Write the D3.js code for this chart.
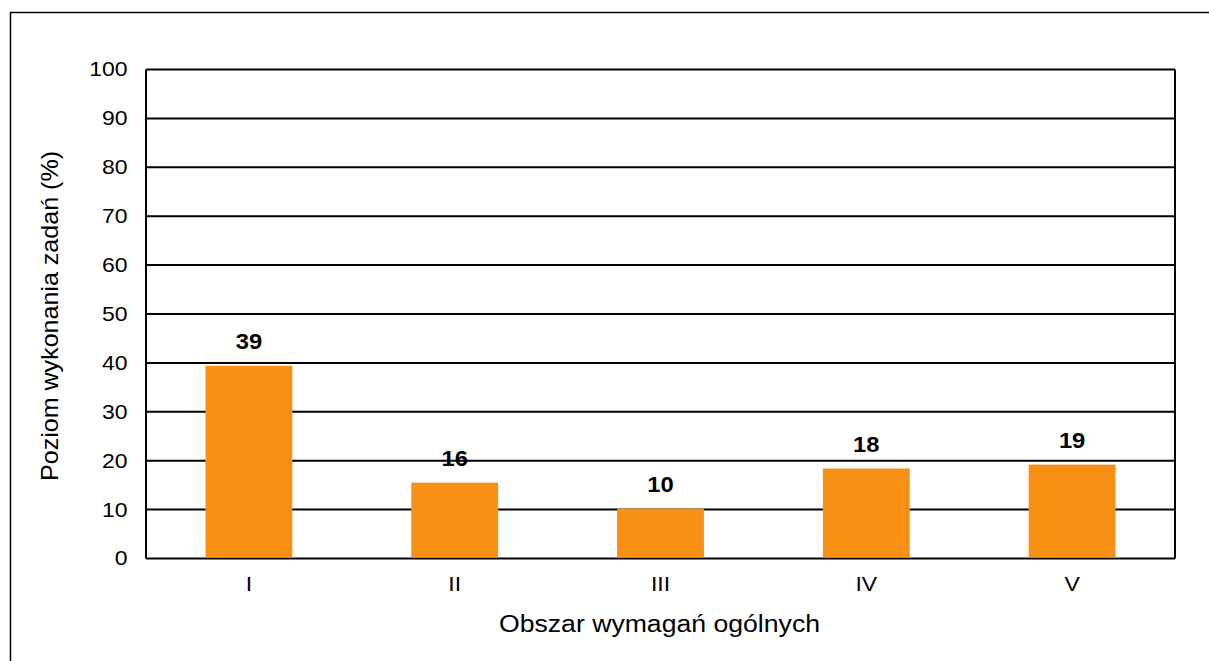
<!DOCTYPE html>
<html>
<head>
<meta charset="utf-8">
<script src="https://cdn.jsdelivr.net/npm/d3@7"></script>
<style>
  body { margin: 0; background: #fff; }
  svg { display: block; font-family: "Liberation Sans", Arial, sans-serif; }
</style>
</head>
<body>
<svg id="chart" width="1209" height="661"></svg>
<script>
var categories = ["I", "II", "III", "IV", "V"];
var values = [39.4, 15.5, 10.2, 18.4, 19.2];
var valueLabels = ["39", "16", "10", "18", "19"];
var yTicks = [0, 10, 20, 30, 40, 50, 60, 70, 80, 90, 100];

var svg = d3.select("#chart");
var plotLeft = 146, plotRight = 1175, plotTop = 69.5, plotBottom = 558.5;
var stretch = 1.15; // text in the source is a bit wider than it is tall

// outer frame (cut off at right and bottom)
svg.append("rect")
  .attr("x", 10.5).attr("y", 12.5)
  .attr("width", 1220).attr("height", 700)
  .attr("fill", "none").attr("stroke", "#000").attr("stroke-width", 1.5);

var x = d3.scaleBand()
  .domain(categories)
  .range([plotLeft, plotRight])
  .paddingInner(0.578)
  .paddingOuter(0.289);

var y = d3.scaleLinear().domain([0, 100]).range([plotBottom, plotTop]);

// gridlines
svg.append("g")
  .selectAll("line")
  .data(yTicks)
  .enter()
  .append("line")
  .attr("x1", plotLeft).attr("x2", plotRight)
  .attr("y1", function(d){ return y(d); })
  .attr("y2", function(d){ return y(d); })
  .attr("stroke", "#000").attr("stroke-width", 2);

// plot frame sides
svg.append("line").attr("x1", plotLeft).attr("x2", plotLeft).attr("y1", plotTop).attr("y2", plotBottom)
  .attr("stroke", "#000").attr("stroke-width", 2);
svg.append("line").attr("x1", plotRight).attr("x2", plotRight).attr("y1", plotTop).attr("y2", plotBottom)
  .attr("stroke", "#000").attr("stroke-width", 2);

// bars
svg.append("g")
  .selectAll("rect")
  .data(values)
  .enter()
  .append("rect")
  .attr("x", function(d, i){ return x(categories[i]); })
  .attr("y", function(d){ return y(d); })
  .attr("width", x.bandwidth())
  .attr("height", function(d){ return y(0) - y(d) - 1; })
  .attr("fill", "#F79015");

// value labels
svg.append("g")
  .selectAll("text")
  .data(values)
  .enter()
  .append("text")
  .attr("transform", function(d, i){
    return "translate(" + (x(categories[i]) + x.bandwidth() / 2) + "," + (y(d) - 17) + ") scale(1.08,1)";
  })
  .attr("text-anchor", "middle")
  .attr("font-size", 22).attr("font-weight", "bold")
  .text(function(d, i){ return valueLabels[i]; });

// y axis
var yAxis = svg.append("g")
  .attr("transform", "translate(" + plotLeft + ",0)")
  .call(d3.axisLeft(y).tickValues(yTicks).tickSize(0));
yAxis.select(".domain").remove();
yAxis.selectAll("text")
  .attr("x", -18.5 / stretch)
  .attr("transform", "scale(" + stretch + ",1)")
  .attr("font-size", 20).attr("fill", "#000")
  .attr("font-family", "Liberation Sans, Arial, sans-serif");

// x axis
var xAxis = svg.append("g")
  .attr("transform", "translate(0," + plotBottom + ")")
  .call(d3.axisBottom(x).tickSize(0).tickPadding(18));
xAxis.select(".domain").remove();
xAxis.selectAll("text")
  .attr("transform", "scale(" + stretch + ",1)")
  .attr("font-size", 20).attr("fill", "#000")
  .attr("font-family", "Liberation Sans, Arial, sans-serif");

// axis titles
svg.append("text")
  .attr("x", (plotLeft + plotRight) / 2 - 1).attr("y", 632)
  .attr("text-anchor", "middle").attr("font-size", 23.5)
  .attr("textLength", 321).attr("lengthAdjust", "spacingAndGlyphs")
  .text("Obszar wymagań ogólnych");

svg.append("text")
  .attr("transform", "translate(58,316) rotate(-90)")
  .attr("text-anchor", "middle").attr("font-size", 24)
  .attr("textLength", 330).attr("lengthAdjust", "spacingAndGlyphs")
  .text("Poziom wykonania zadań (%)");
</script>
</body>
</html>
